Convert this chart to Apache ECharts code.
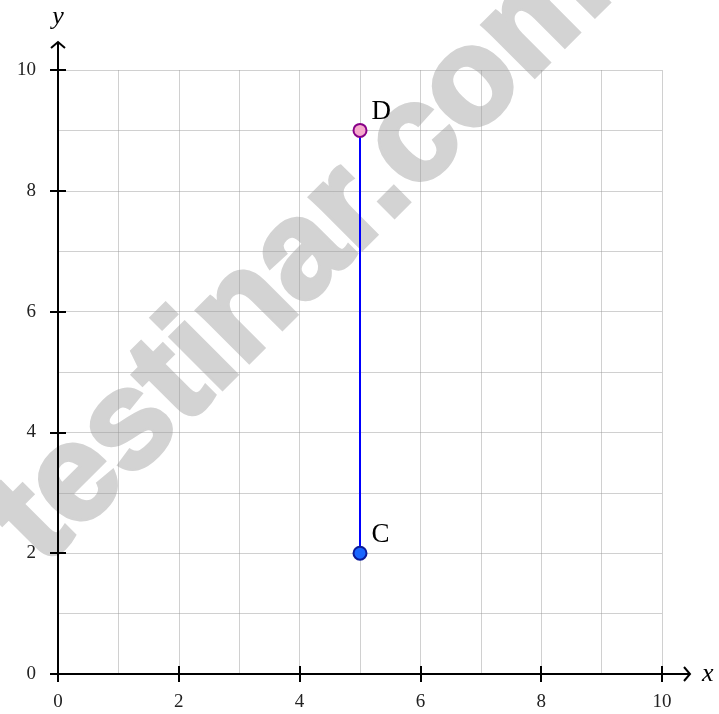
<!DOCTYPE html>
<html>
<head>
<meta charset="utf-8">
<script src="https://cdn.jsdelivr.net/npm/echarts@6/dist/echarts.min.js"></script>
<style>
    html,body{margin:0;padding:0;background:#fff;}
    #main{width:719px;height:714px;}
</style>
</head>
<body>
<div id="main"></div>
<script>
// points of the segment CD
var pointNames = ['C', 'D'];
var pointX = [5, 5];
var pointY = [2, 9];
var pointFill = ['#1a66ff', '#f5a9cc'];
var pointBorder = ['#0b1a99', '#880088'];

// axes
var xRange = [0, 10];
var yRange = [0, 10];
var tickStep = 2;

var serif = '"Liberation Serif","DejaVu Serif",serif';

var dom = document.getElementById('main');
var myChart = echarts.init(dom, null, {renderer: 'canvas'});

var data = pointNames.map(function (n, i) {
    return {
        name: n,
        value: [pointX[i], pointY[i]],
        itemStyle: {color: pointFill[i], borderColor: pointBorder[i], borderWidth: 2}
    };
});

var gridLine = {show: true, lineStyle: {color: 'rgba(150,150,150,0.45)', width: 1}};

function valueAxis(range, inner, pos) {
    return {
        type: 'value',
        position: pos,
        min: range[0],
        max: range[1],
        interval: tickStep,
        axisLine: {show: false, onZero: false},
        axisTick: {show: true, inside: inner, length: 8, lineStyle: {color: '#000', width: 2}},
        axisLabel: {show: !inner, color: '#222', fontFamily: serif, fontSize: 19},
        splitLine: inner ? {show: false} : gridLine,
        minorTick: {show: false, splitNumber: 2},
        minorSplitLine: inner ? {show: false} : gridLine
    };
}

var xa = valueAxis(xRange, false, 'bottom'); xa.axisLabel.margin = 19;
var ya = valueAxis(yRange, false, 'left'); ya.axisLabel.margin = 22;

var option = {
    animation: false,
    grid: {left: 58, right: 57, top: 70, bottom: 40},
    xAxis: [xa, valueAxis(xRange, true, 'bottom')],
    yAxis: [ya, valueAxis(yRange, true, 'left')],
    series: [
        {
            type: 'line',
            data: data,
            symbol: 'circle',
            symbolSize: 13,
            z: 5,
            lineStyle: {color: '#0000ff', width: 2},
            label: {
                show: true,
                formatter: '{b}',
                position: 'right',
                distance: 3,
                offset: [1, -18],
                color: '#000',
                fontFamily: serif,
                fontSize: 27
            }
        }
    ]
};
myChart.setOption(option);

// axis lines with arrow heads, drawn past the last grid line
var o = myChart.convertToPixel({gridIndex: 0}, [xRange[0], yRange[0]]);
var xe = myChart.convertToPixel({gridIndex: 0}, [xRange[1], yRange[0]]);
var ye = myChart.convertToPixel({gridIndex: 0}, [xRange[0], yRange[1]]);
var ext = 28;
var axisStyle = {stroke: '#000', lineWidth: 2, fill: null};

myChart.setOption({
    graphic: [
        {
            type: 'text', zlevel: -1, silent: true,
            x: 302, y: 255, rotation: 45 * Math.PI / 180,
            style: {
                text: 'testinar.com', fill: '#d3d3d3', stroke: '#d3d3d3', lineWidth: 5,
                font: 'bold 137px "Liberation Sans", Arial, sans-serif',
                align: 'center', verticalAlign: 'middle'
            }
        },
        {type: 'line', z: 10, shape: {x1: o[0], y1: o[1], x2: xe[0] + ext, y2: o[1]}, style: axisStyle},
        {type: 'line', z: 10, shape: {x1: o[0], y1: o[1], x2: o[0], y2: ye[1] - ext}, style: axisStyle},
        {type: 'polyline', z: 10, shape: {points: [[xe[0] + ext - 6, o[1] - 7], [xe[0] + ext, o[1]], [xe[0] + ext - 6, o[1] + 7]]}, style: axisStyle},
        {type: 'polyline', z: 10, shape: {points: [[o[0] - 7, ye[1] - ext + 6], [o[0], ye[1] - ext], [o[0] + 7, ye[1] - ext + 6]]}, style: axisStyle},
        {
            type: 'text', z: 10, x: xe[0] + ext + 12, y: o[1],
            style: {text: 'x', fill: '#000', font: 'italic 26px ' + serif, verticalAlign: 'middle'}
        },
        {
            type: 'text', z: 10, x: o[0], y: ye[1] - ext - 25,
            style: {text: 'y', fill: '#000', font: 'italic 26px ' + serif, align: 'center', verticalAlign: 'middle'}
        }
    ]
});

window.addEventListener('resize', myChart.resize);
</script>
</body>
</html>
